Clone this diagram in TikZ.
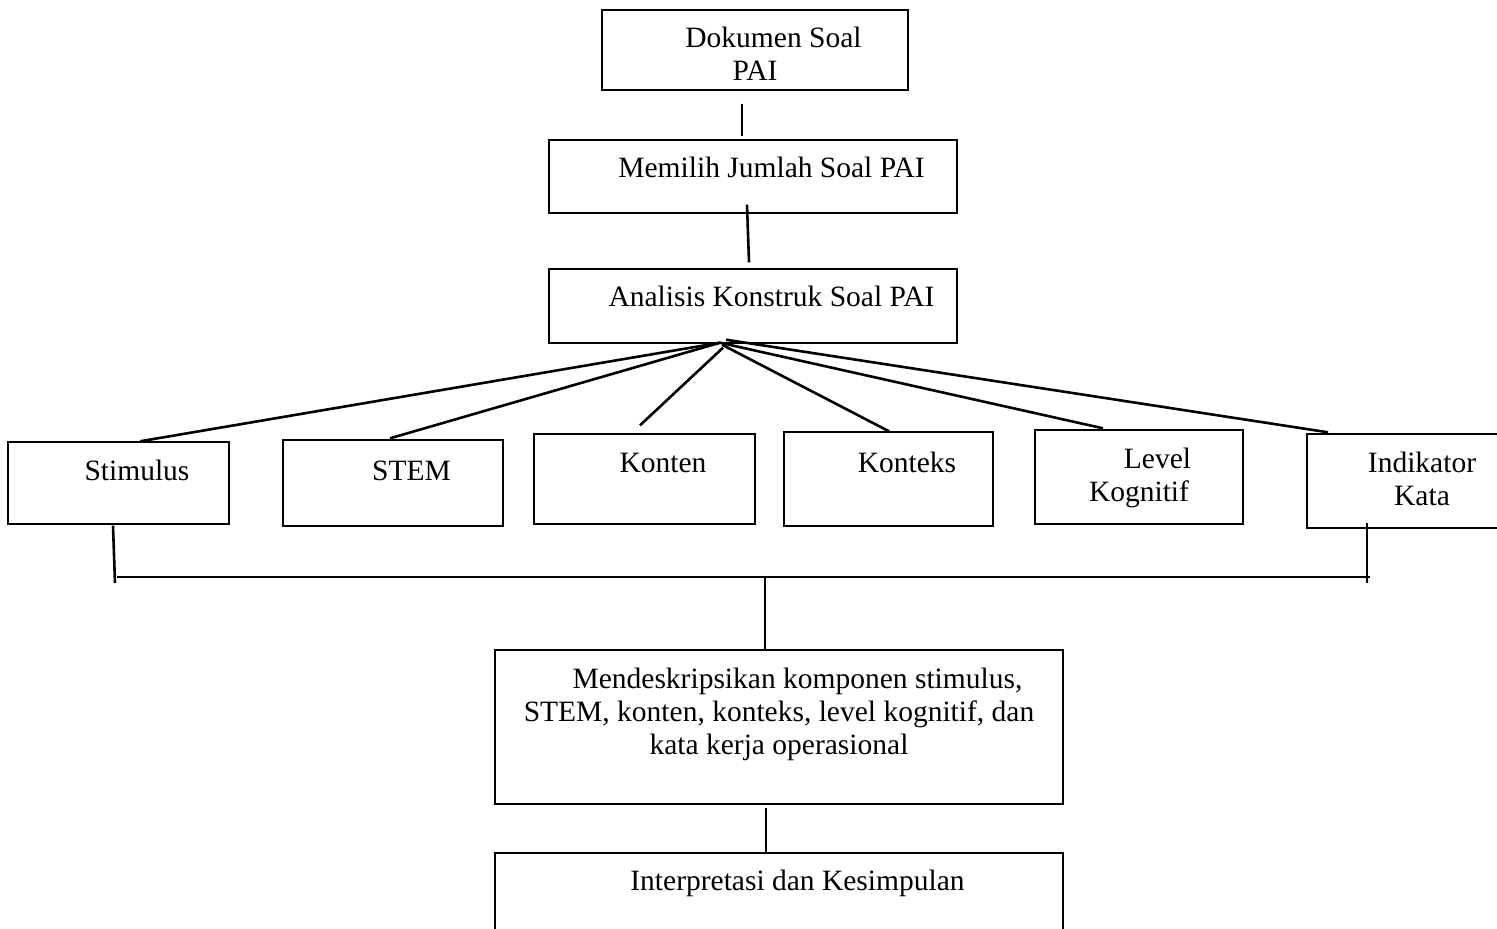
\documentclass[tikz,border=0pt]{standalone}
\usepackage{fontspec}
\setmainfont{Liberation Serif}
\usetikzlibrary{calc}
\newcommand{\firstind}{\hspace*{18.5pt}}
\begin{document}
\begin{tikzpicture}[x=0.5pt,y=-0.5pt,
  bx/.style 2 args={draw=black, line width=0.7pt, inner sep=0pt, minimum width=#1*0.5pt, minimum height=#2*0.5pt},
  txt/.style={anchor=base, inner sep=0pt, font=\fontsize{14.75pt}{16.5pt}\selectfont},
  ln/.style={line width=1.3pt}]
\useasboundingbox (0,0) rectangle (1497,928);
% boxes
\node[bx={306}{80}] (b1) at (755,50) {};
\node[bx={408}{73}] (b2) at (753,176.5) {};
\node[bx={408}{74}] (b3) at (753,306) {};
\node[bx={221}{82}] (s1) at (118.5,483) {};
\node[bx={220}{86}] (s2) at (393,483) {};
\node[bx={221}{90}] (s3) at (644.5,479) {};
\node[bx={209}{94}] (s4) at (888.5,479) {};
\node[bx={208}{94}] (s5) at (1139,477) {};
\node[bx={230}{94}] (s6) at (1422,481) {};
\node[bx={568}{154}] (b4) at (779,727) {};
\node[bx={568}{107}] (b5) at (779,906.5) {};
% texts
\node[txt] (t1) at (755,47) {\begin{tabular}[t]{@{}c@{}}\firstind Dokumen Soal\\PAI\end{tabular}};
\node[txt] (t2) at (753,177) {\begin{tabular}[t]{@{}c@{}}\firstind Memilih Jumlah Soal PAI\end{tabular}};
\node[txt] (t3) at (753,306) {\begin{tabular}[t]{@{}c@{}}\firstind Analisis Konstruk Soal PAI\end{tabular}};
\node[txt] (ts1) at (118.5,480) {\begin{tabular}[t]{@{}c@{}}\firstind Stimulus\end{tabular}};
\node[txt] (ts2) at (393,480) {\begin{tabular}[t]{@{}c@{}}\firstind STEM\end{tabular}};
\node[txt] (ts3) at (644.5,472) {\begin{tabular}[t]{@{}c@{}}\firstind Konten\end{tabular}};
\node[txt] (ts4) at (888.5,472) {\begin{tabular}[t]{@{}c@{}}\firstind Konteks\end{tabular}};
\node[txt] (ts5) at (1139,468) {\begin{tabular}[t]{@{}c@{}}\firstind Level\\Kognitif\end{tabular}};
\node[txt] (ts6) at (1422,472) {\begin{tabular}[t]{@{}c@{}}Indikator\\Kata\end{tabular}};
\node[txt] (t4) at (779,688) {\begin{tabular}[t]{@{}c@{}}\firstind Mendeskripsikan komponen stimulus,\\STEM, konten, konteks, level kognitif, dan\\kata kerja operasional\end{tabular}};
\node[txt] (t5) at (779,890) {\begin{tabular}[t]{@{}c@{}}\firstind Interpretasi dan Kesimpulan\end{tabular}};
% vertical connectors at top
\draw[ln] ($(b1.south)+(-13,13)$) -- ($(b2.north)+(-11,-3)$);
\draw[ln] ($(b2.south)+(-6,-9)$) -- ($(b3.north)+(-4,-6)$);
% fan
\draw[ln] ($(b3.south)+(-33,-1)$) -- ($(s1.north)+(21.5,0)$);
\draw[ln] ($(b3.south)+(-33,-1)$) -- ($(s2.north)+(-3,-1)$);
\draw[ln] ($(b3.south)+(-30,4)$) -- ($(s3.north)+(-4.5,-8)$);
\draw[ln] ($(b3.south)+(-31,1)$) -- ($(s4.north)+(0.5,0)$);
\draw[ln] ($(b3.south)+(-33,-1)$) -- ($(s5.north)+(-36,-1)$);
\draw[ln] ($(b3.south)+(-27,-4)$) -- ($(s6.north)+(-94,-1)$);
% bus
\coordinate (busL) at (117,577);
\coordinate (busR) at (1370,577);
\coordinate (busC) at (765,577);
\coordinate (dropL) at (115,583);
\coordinate (dropR) at (1367,583);
\draw[ln] ($(s1.south)+(-5.5,1)$) -- (dropL);
\draw[ln] ($(s6.south)+(-55,-6)$) -- (dropR);
\draw[ln] (busL) -- (busR);
\draw[ln] (busC) -- ($(b4.north)+(-14,0)$);
\draw[ln] ($(b4.south)+(-13,3)$) -- ($(b5.north)+(-13,0)$);
\end{tikzpicture}
\end{document}
